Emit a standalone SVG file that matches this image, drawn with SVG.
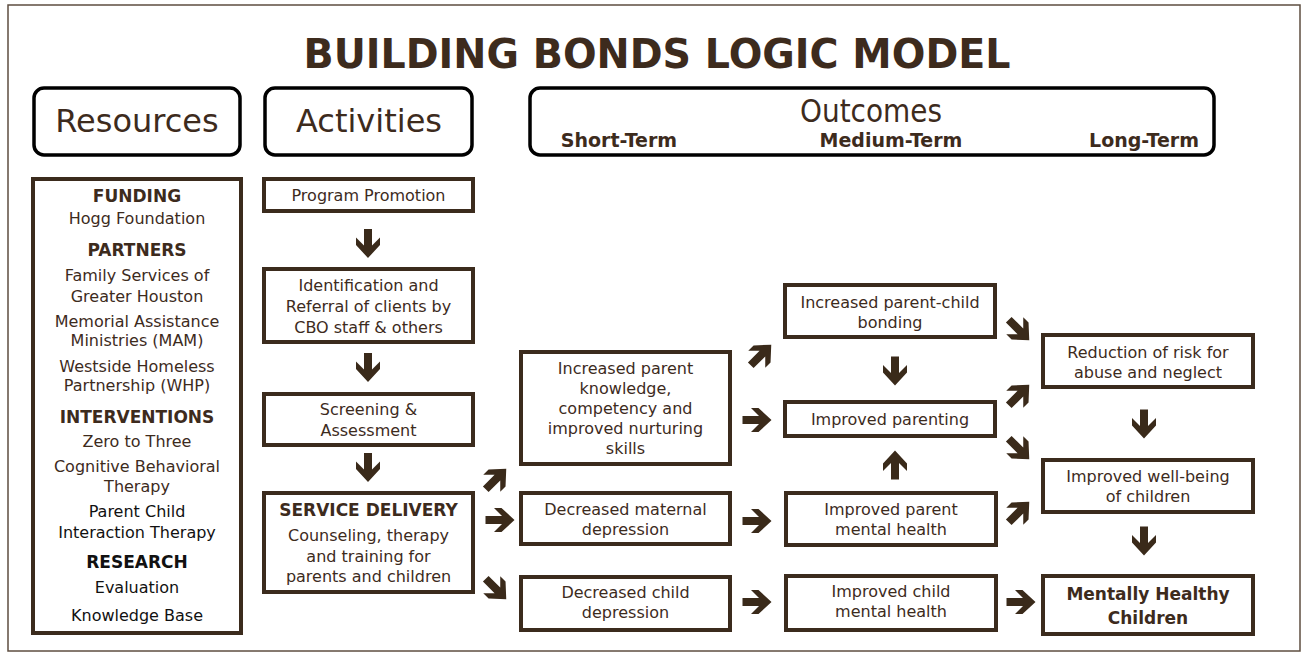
<svg xmlns="http://www.w3.org/2000/svg" xmlns:xlink="http://www.w3.org/1999/xlink" width="1302" height="658" viewBox="0 0 1302 658">
  <style>
    .frame { fill: #ffffff; stroke: #5e4e40; stroke-width: 1.5; }
    .hdr { fill: #ffffff; stroke: #000000; stroke-width: 3.5; }
    .box { fill: #ffffff; stroke: #3b2b1d; stroke-width: 4; }
    .t { font-family: "DejaVu Sans", Verdana, sans-serif; font-size: 16px; fill: #3d2b1d; text-anchor: middle; }
    .b { font-weight: bold; font-size: 17px; }
    .k { fill: #111111; }
    .title { font-family: "DejaVu Sans", Verdana, sans-serif; font-weight: bold; font-size: 40px; fill: #3d2b1d; text-anchor: middle; }
    .h1 { font-family: "DejaVu Sans", Verdana, sans-serif; font-size: 32px; fill: #3d2b1d; text-anchor: middle; }
    .h2 { font-family: "DejaVu Sans Condensed", "DejaVu Sans", sans-serif; font-size: 32px; fill: #3d2b1d; text-anchor: middle; }
    .sub { font-family: "DejaVu Sans", Verdana, sans-serif; font-weight: bold; font-size: 19px; fill: #3d2b1d; text-anchor: middle; }
    .arr { fill: #3a2a1a; }
  </style>
  <defs>
    <!-- bold block arrow pointing right, centred on the origin -->
    <path id="arrow" d="M-14.5,-4 H2 L-6,-12 H1.5 L14.5,0 L1.5,12 H-6 L2,4 H-14.5 Z"/>
  </defs>

  <rect class="frame" x="8" y="5" width="1292" height="646"/>

  <text class="title" x="657" y="68" textLength="707" lengthAdjust="spacingAndGlyphs">BUILDING BONDS LOGIC MODEL</text>

  <!-- column headers -->
  <g id="hdr-resources">
    <rect class="hdr" x="34" y="88" width="206" height="67" rx="10"/>
    <text class="h1" x="137" y="132">Resources</text>
  </g>
  <g id="hdr-activities">
    <rect class="hdr" x="265" y="88" width="207" height="67" rx="10"/>
    <text class="h1" x="369" y="132">Activities</text>
  </g>
  <g id="hdr-outcomes">
    <rect class="hdr" x="530" y="88" width="684" height="67" rx="10"/>
    <text class="h2" x="871" y="122" textLength="142" lengthAdjust="spacingAndGlyphs">Outcomes</text>
    <text class="sub" x="619" y="147">Short-Term</text>
    <text class="sub" x="891" y="147">Medium-Term</text>
    <text class="sub" x="1144" y="147">Long-Term</text>
  </g>

  <!-- resources -->
  <g id="resources">
    <rect class="box" x="33" y="179" width="208" height="454"/>
    <text class="t b" x="137" y="202">FUNDING</text>
    <text class="t" x="137" y="224">Hogg Foundation</text>
    <text class="t b" x="137" y="256">PARTNERS</text>
    <text class="t" x="137" y="281">Family Services of</text>
    <text class="t" x="137" y="302">Greater Houston</text>
    <text class="t" x="137" y="327">Memorial Assistance</text>
    <text class="t" x="137" y="346">Ministries (MAM)</text>
    <text class="t" x="137" y="372">Westside Homeless</text>
    <text class="t" x="137" y="391">Partnership (WHP)</text>
    <text class="t b" x="137" y="423">INTERVENTIONS</text>
    <text class="t" x="137" y="447">Zero to Three</text>
    <text class="t" x="137" y="472">Cognitive Behavioral</text>
    <text class="t" x="137" y="492">Therapy</text>
    <text class="t k" x="137" y="517">Parent Child</text>
    <text class="t k" x="137" y="538">Interaction Therapy</text>
    <text class="t b k" x="137" y="568">RESEARCH</text>
    <text class="t k" x="137" y="593">Evaluation</text>
    <text class="t k" x="137" y="621">Knowledge Base</text>
  </g>

  <!-- activities -->
  <g id="act-promotion">
    <rect class="box" x="264" y="179" width="209" height="32"/>
    <text class="t" x="368.5" y="201">Program Promotion</text>
  </g>
  <g id="act-referral">
    <rect class="box" x="264" y="269" width="209" height="73"/>
    <text class="t" x="368.5" y="291">Identification and</text>
    <text class="t" x="368.5" y="312">Referral of clients by</text>
    <text class="t" x="368.5" y="333">CBO staff &amp; others</text>
  </g>
  <g id="act-screening">
    <rect class="box" x="264" y="394" width="209" height="51"/>
    <text class="t" x="368.5" y="415">Screening &amp;</text>
    <text class="t" x="368.5" y="436">Assessment</text>
  </g>
  <g id="act-service">
    <rect class="box" x="264" y="493" width="209" height="99"/>
    <text class="t b" x="368.5" y="516">SERVICE DELIVERY</text>
    <text class="t" x="368.5" y="541">Counseling, therapy</text>
    <text class="t" x="368.5" y="562">and training for</text>
    <text class="t" x="368.5" y="582">parents and children</text>
  </g>

  <!-- short-term outcomes -->
  <g id="st-knowledge">
    <rect class="box" x="521" y="352" width="209" height="112"/>
    <text class="t" x="625.5" y="374">Increased parent</text>
    <text class="t" x="625.5" y="394">knowledge,</text>
    <text class="t" x="625.5" y="414">competency and</text>
    <text class="t" x="625.5" y="434">improved nurturing</text>
    <text class="t" x="625.5" y="454">skills</text>
  </g>
  <g id="st-maternal">
    <rect class="box" x="521" y="493" width="209" height="51"/>
    <text class="t" x="625.5" y="515">Decreased maternal</text>
    <text class="t" x="625.5" y="535">depression</text>
  </g>
  <g id="st-child">
    <rect class="box" x="521" y="577" width="209" height="53"/>
    <text class="t" x="625.5" y="598">Decreased child</text>
    <text class="t" x="625.5" y="618">depression</text>
  </g>

  <!-- medium-term outcomes -->
  <g id="mt-bonding">
    <rect class="box" x="785" y="285" width="210" height="52"/>
    <text class="t" x="890" y="308">Increased parent-child</text>
    <text class="t" x="890" y="328">bonding</text>
  </g>
  <g id="mt-parenting">
    <rect class="box" x="785" y="402" width="210" height="34"/>
    <text class="t" x="890" y="425">Improved parenting</text>
  </g>
  <g id="mt-parent-health">
    <rect class="box" x="786" y="493" width="210" height="52"/>
    <text class="t" x="891" y="515">Improved parent</text>
    <text class="t" x="891" y="535">mental health</text>
  </g>
  <g id="mt-child-health">
    <rect class="box" x="786" y="576" width="210" height="54"/>
    <text class="t" x="891" y="597">Improved child</text>
    <text class="t" x="891" y="617">mental health</text>
  </g>

  <!-- long-term outcomes -->
  <g id="lt-risk">
    <rect class="box" x="1043" y="335" width="210" height="52"/>
    <text class="t" x="1148" y="358">Reduction of risk for</text>
    <text class="t" x="1148" y="378">abuse and neglect</text>
  </g>
  <g id="lt-wellbeing">
    <rect class="box" x="1043" y="460" width="210" height="52"/>
    <text class="t" x="1148" y="482">Improved well-being</text>
    <text class="t" x="1148" y="502">of children</text>
  </g>
  <g id="lt-healthy">
    <rect class="box" x="1043" y="576" width="210" height="58"/>
    <text class="t b" x="1148" y="600">Mentally Healthy</text>
    <text class="t b" x="1148" y="624">Children</text>
  </g>

  <!-- connectors -->
  <g id="connectors" class="arr">
    <use xlink:href="#arrow" href="#arrow" transform="translate(368,243.5) rotate(90)"/>
    <use xlink:href="#arrow" href="#arrow" transform="translate(368,367.5) rotate(90)"/>
    <use xlink:href="#arrow" href="#arrow" transform="translate(368,467.5) rotate(90)"/>

    <use xlink:href="#arrow" href="#arrow" transform="translate(496,479) rotate(-45)"/>
    <use xlink:href="#arrow" href="#arrow" transform="translate(500,520)"/>
    <use xlink:href="#arrow" href="#arrow" transform="translate(496,589) rotate(45)"/>

    <use xlink:href="#arrow" href="#arrow" transform="translate(761,355) rotate(-45)"/>
    <use xlink:href="#arrow" href="#arrow" transform="translate(757,420)"/>
    <use xlink:href="#arrow" href="#arrow" transform="translate(757,521)"/>
    <use xlink:href="#arrow" href="#arrow" transform="translate(757,602)"/>

    <use xlink:href="#arrow" href="#arrow" transform="translate(895,371) rotate(90)"/>
    <use xlink:href="#arrow" href="#arrow" transform="translate(895,465) rotate(-90)"/>

    <use xlink:href="#arrow" href="#arrow" transform="translate(1019,330) rotate(45)"/>
    <use xlink:href="#arrow" href="#arrow" transform="translate(1019,395) rotate(-45)"/>
    <use xlink:href="#arrow" href="#arrow" transform="translate(1019,449) rotate(45)"/>
    <use xlink:href="#arrow" href="#arrow" transform="translate(1019,512) rotate(-45)"/>
    <use xlink:href="#arrow" href="#arrow" transform="translate(1021,602)"/>

    <use xlink:href="#arrow" href="#arrow" transform="translate(1144,424) rotate(90)"/>
    <use xlink:href="#arrow" href="#arrow" transform="translate(1144,541) rotate(90)"/>
  </g>
</svg>
